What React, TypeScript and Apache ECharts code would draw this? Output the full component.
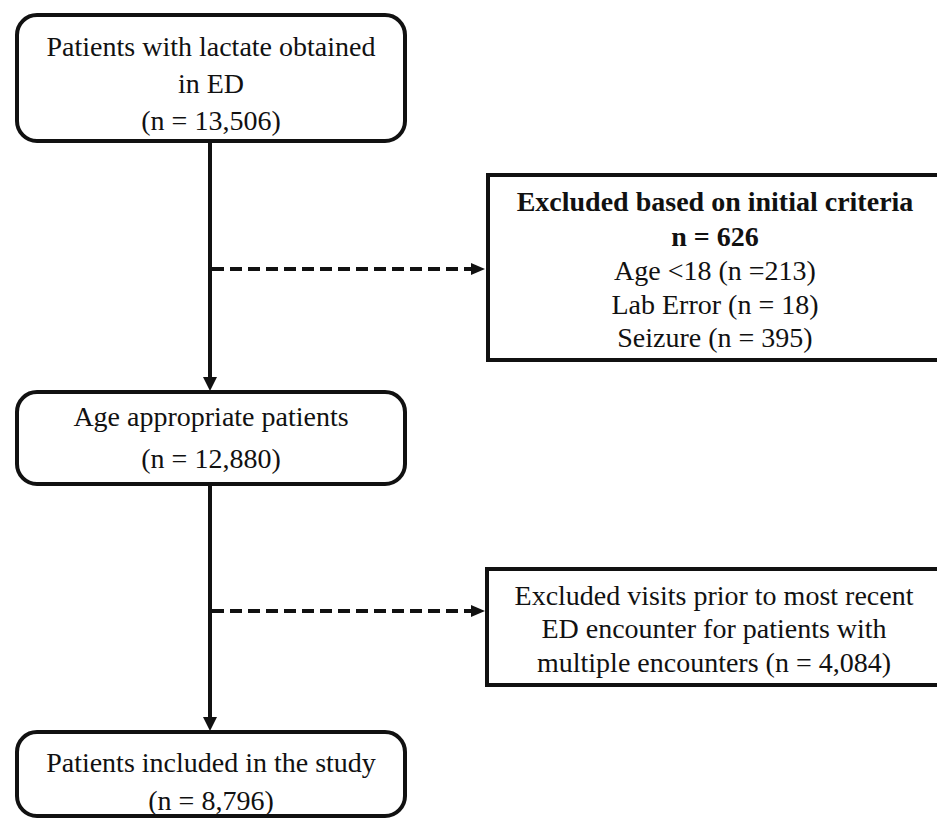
import React, { useEffect, useRef } from "react";
import * as echarts from "echarts";

// ---- data ----
const stageLabels: string[][] = [
  ["Patients with lactate obtained", "in ED"],
  ["Age appropriate patients"],
  ["Patients included in the study"],
];
const stageCounts: string[] = ["13,506", "12,880", "8,796"];
const exclusionTitle = "Excluded based on initial criteria";
const exclusionTotal = "626";
const exclusionReasons: string[] = ["Age <18 (n =213)", "Lab Error (n = 18)", "Seizure (n = 395)"];
const secondExclusionLines: string[] = [
  "Excluded visits prior to most recent",
  "ED encounter for patients with",
  "multiple encounters (n = 4,084)",
];

const FONT = '"Liberation Serif", "Times New Roman", serif';
const INK = "#111";

export default function App() {
  const ref = useRef<HTMLDivElement>(null);
  useEffect(() => {
    document.body.style.margin = "0";
    const chart = echarts.init(ref.current!, undefined, { renderer: "svg" });

    const boxStyle = { fill: "#fff", stroke: INK, lineWidth: 4 };
    const txt = (x: number, y: number, text: string, bold = false) => ({
      type: "text",
      x,
      y,
      z: 10,
      style: {
        text,
        font: `${bold ? "bold " : ""}28px ${FONT}`,
        fill: INK,
        align: "center",
        verticalAlign: "middle",
      },
    });

    const els: any[] = [];
    // main vertical connector
    els.push({ type: "line", shape: { x1: 210, y1: 141, x2: 210, y2: 380 }, style: { stroke: INK, lineWidth: 4 } });
    els.push({ type: "polygon", shape: { points: [[203, 377], [217, 377], [210, 391]] }, style: { fill: INK } });
    els.push({ type: "line", shape: { x1: 210, y1: 484, x2: 210, y2: 720 }, style: { stroke: INK, lineWidth: 4 } });
    els.push({ type: "polygon", shape: { points: [[203, 717], [217, 717], [210, 731]] }, style: { fill: INK } });

    // dashed arrows
    [269, 611].forEach((y) => {
      els.push({
        type: "line",
        shape: { x1: 212, y1: y, x2: 472, y2: y },
        style: { stroke: INK, lineWidth: 4, lineDash: [12, 6] },
      });
      els.push({ type: "polygon", shape: { points: [[471, y - 6], [471, y + 6], [485, y]] }, style: { fill: INK } });
    });

    // main boxes
    els.push({ type: "rect", shape: { x: 17, y: 15, width: 388, height: 126, r: 20 }, style: boxStyle });
    els.push({ type: "rect", shape: { x: 17, y: 392, width: 388, height: 92, r: 20 }, style: boxStyle });
    els.push({ type: "rect", shape: { x: 17, y: 732, width: 388, height: 84, r: 20 }, style: boxStyle });

    // exclusion boxes
    els.push({ type: "rect", shape: { x: 488, y: 175, width: 470, height: 185 }, style: boxStyle });
    els.push({ type: "rect", shape: { x: 487, y: 569, width: 470, height: 116 }, style: boxStyle });

    // stage texts
    const stageY = [[46, 83, 120], [416, 458], [762, 800]];
    stageLabels.forEach((lines, i) => {
      const ys = stageY[i];
      lines.forEach((l, j) => els.push(txt(211, ys[j], l)));
      els.push(txt(211, ys[lines.length], `(n = ${stageCounts[i]})`));
    });

    // first exclusion text
    const ex1Y = [201, 236, 270, 304, 337];
    els.push(txt(715, ex1Y[0], exclusionTitle, true));
    els.push(txt(715, ex1Y[1], `n = ${exclusionTotal}`, true));
    exclusionReasons.forEach((r, j) => els.push(txt(715, ex1Y[j + 2], r)));

    // second exclusion text
    const ex2Y = [595, 628, 662];
    secondExclusionLines.forEach((l, j) => els.push(txt(714, ex2Y[j], l)));

    chart.setOption({
      animation: false,
      backgroundColor: "#fff",
      graphic: { elements: els },
    });
    return () => chart.dispose();
  }, []);
  return <div ref={ref} style={{ width: 937, height: 818 }} />;
}
